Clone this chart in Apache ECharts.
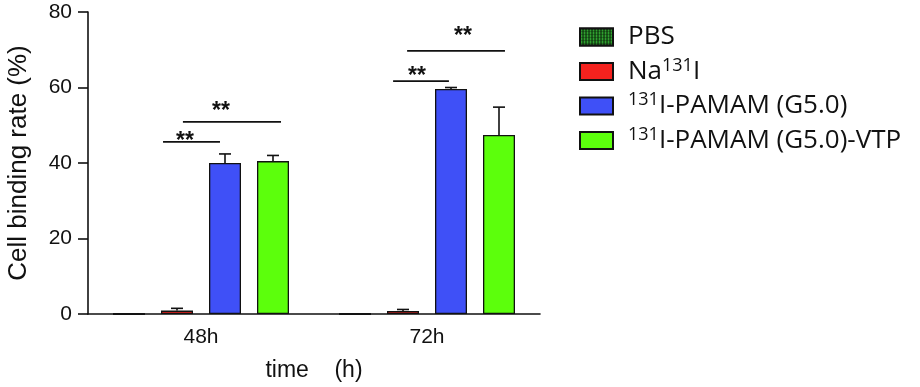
<!DOCTYPE html>
<html>
<head>
<meta charset="utf-8">
<script src="https://cdn.jsdelivr.net/npm/echarts@6/dist/echarts.min.js"></script>
<style>
  html, body { margin: 0; padding: 0; background: #fff; }
  #chart { width: 920px; height: 387px; }
</style>
</head>
<body>
<div id="chart"></div>
<script>
// data
var categories = ['48h', '72h']
var seriesNames = ['PBS', 'Na131I', '131I-PAMAM (G5.0)', '131I-PAMAM (G5.0)-VTP']
var pbsValues = [0, 0]
var naiValues = [0.9, 0.8]
var pamamValues = [40.0, 59.6]
var vtpValues = [40.5, 47.4]
var naiErrors = [0.6, 0.4]
var pamamErrors = [2.4, 0.4]
var vtpErrors = [1.5, 7.4]
var yTicks = [0, 20, 40, 60, 80]
// significance brackets: [category, line value, start, end (fraction of band from centre), star value, star x]
var brackets = [
  [0, 45.6, -0.168, 0.084, 45.6, -0.071],
  [0, 50.9, -0.080, 0.354, 53.6, 0.088],
  [1, 61.7, -0.150, 0.097, 63.0, -0.044],
  [1, 69.7, -0.088, 0.345, 73.4, 0.159]
]

var colors = ['#123d12', '#f5221e', '#3f50f7', '#5cff0c']
var BAR_W = 32, BAR_GAP = 16
var FONT = '"Liberation Sans", Arial, sans-serif'
var LEGEND_FONT = '"Open Sans", "Noto Sans", sans-serif'

var chart = echarts.init(document.getElementById('chart'))

function errorSeries(idx, values, errors){
  var data = []
  for(var i = 0; i < values.length; i++){
    data.push([i, values[i], values[i] + errors[i]])
  }
  return {
    type: 'custom',
    z: 5,
    silent: true,
    encode: { x: 0, y: [1, 2] },
    data: data,
    renderItem: function(params, api){
      var off = (idx - 1.5) * (BAR_W + BAR_GAP)
      var p0 = api.coord([api.value(0), api.value(1)])
      var p1 = api.coord([api.value(0), api.value(2)])
      var x = p0[0] + off
      var st = { stroke: '#111', lineWidth: 1.6 }
      return {
        type: 'group',
        children: [
          { type: 'line', shape: { x1: x, y1: p0[1], x2: x, y2: p1[1] }, style: st },
          { type: 'line', shape: { x1: x - 6, y1: p1[1], x2: x + 6, y2: p1[1] }, style: st }
        ]
      }
    }
  }
}

function barSeries(i, values, extra){
  var style = { color: colors[i], borderColor: '#111', borderWidth: 1.3 }
  if(extra) Object.assign(style, extra)
  return { type: 'bar', name: seriesNames[i], data: values, barWidth: BAR_W, barGap: '50%', itemStyle: style }
}

var seriesList = [
  barSeries(0, pbsValues, { decal: { symbol: 'circle', symbolSize: 0.6, color: '#3fcf3f', dashArrayX: [3, 0], dashArrayY: [3, 0] } }),
  barSeries(1, naiValues),
  barSeries(2, pamamValues),
  barSeries(3, vtpValues),
  errorSeries(1, naiValues, naiErrors),
  errorSeries(2, pamamValues, pamamErrors),
  errorSeries(3, vtpValues, vtpErrors),
  {
    type: 'custom',
    z: 6,
    silent: true,
    encode: { x: 0, y: 1 },
    data: brackets,
    renderItem: function(params, api){
      var band = api.size([1, 0])[0]
      var c = api.coord([api.value(0), api.value(1)])
      var s = api.coord([api.value(0), api.value(4)])
      return {
        type: 'group',
        children: [
          { type: 'line', shape: { x1: c[0] + api.value(2) * band, y1: c[1], x2: c[0] + api.value(3) * band, y2: c[1] },
            style: { stroke: '#111', lineWidth: 1.6 } },
          { type: 'text', x: s[0] + api.value(5) * band, y: s[1],
            style: { text: '**', font: 'bold 23px ' + FONT, fill: '#111', align: 'center', verticalAlign: 'middle' } }
        ]
      }
    }
  }
]

var legendLabels = {
  'PBS': 'PBS',
  'Na131I': 'Na{sup|131}I',
  '131I-PAMAM (G5.0)': '{sup|131}I-PAMAM (G5.0)',
  '131I-PAMAM (G5.0)-VTP': '{sup|131}I-PAMAM (G5.0)-VTP'
}

chart.setOption({
  animation: false,
  color: colors,
  grid: { left: 88, top: 12, width: 452, bottom: 73 },
  legend: {
    orient: 'vertical',
    left: 574,
    top: 17,
    itemWidth: 33,
    itemHeight: 17,
    itemGap: 4.5,
    icon: 'rect',
    data: seriesNames,
    formatter: function(name){ return legendLabels[name] },
    textStyle: {
      fontFamily: LEGEND_FONT,
      fontSize: 26,
      color: '#111',
      lineHeight: 30,
      padding: [0, 0, 0, 10],
      rich: {
        sup: { fontSize: 18, verticalAlign: 'top', lineHeight: 30, padding: [0, 0, 9, 0], fontFamily: LEGEND_FONT, color: '#111' }
      }
    }
  },
  xAxis: {
    type: 'category',
    data: categories,
    name: 'time    (h)',
    nameLocation: 'middle',
    nameGap: 45,
    nameTextStyle: { fontFamily: FONT, fontSize: 23, color: '#111' },
    axisLine: { lineStyle: { color: '#111', width: 1.6 } },
    axisTick: { alignWithLabel: true, length: 9, lineStyle: { color: '#111', width: 1.6 } },
    axisLabel: { fontFamily: FONT, fontSize: 21, color: '#111', margin: 13 }
  },
  yAxis: {
    type: 'value',
    min: yTicks[0],
    max: yTicks[yTicks.length - 1],
    interval: 20,
    name: 'Cell binding rate (%)',
    nameLocation: 'middle',
    nameGap: 56,
    nameTextStyle: { fontFamily: FONT, fontSize: 26, color: '#111' },
    axisLine: { show: true, lineStyle: { color: '#111', width: 1.6 } },
    axisTick: { show: true, length: 10, lineStyle: { color: '#111', width: 1.6 } },
    axisLabel: { fontFamily: FONT, fontSize: 21, color: '#111', margin: 16 },
    splitLine: { show: false }
  },
  series: seriesList
})
</script>
</body>
</html>
